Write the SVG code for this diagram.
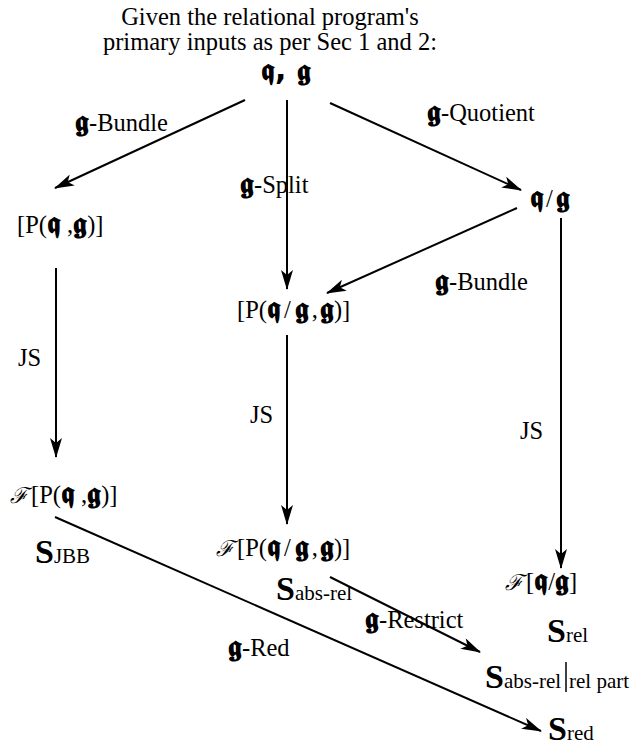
<svg xmlns="http://www.w3.org/2000/svg" width="632" height="746" viewBox="0 0 632 746">
<defs>
<marker id="ah" viewBox="0 0 20 12" refX="19" refY="6" markerWidth="20" markerHeight="12" markerUnits="userSpaceOnUse" orient="auto">
<path d="M0,0 L20,6 L0,12 L5,6 Z" fill="#000"/>
</marker>
<style>
text{font-family:"Liberation Serif","DejaVu Serif",serif;font-size:24.5px;fill:#000}
.fk{font-family:"DejaVu Sans","DejaVu Serif",serif;font-weight:bold;font-size:30px}
.sf{font-family:"DejaVu Serif",serif;font-style:italic;font-size:22px}
.big{font-size:34px;font-weight:bold}
.sub{font-size:21px}
line{stroke:#000;stroke-width:2}
.a{marker-end:url(#ah)}
</style>
</defs>
<rect width="632" height="746" fill="#fff"/>
<g id="title">
<text x="270" y="25" text-anchor="middle" font-size="26.5">Given the relational program's</text>
<text x="270" y="50" text-anchor="middle" font-size="26.5">primary inputs as per Sec 1 and 2:</text>
<text x="286" y="80" text-anchor="middle" class="fk">𝖖, 𝖌</text>
</g>
<g id="connectors">
<line class="a" x1="245" y1="100" x2="55" y2="188"/>
<line class="a" x1="287" y1="100" x2="287" y2="289"/>
<line class="a" x1="330" y1="103" x2="521" y2="190"/>
<line class="a" x1="517" y1="208" x2="327" y2="293"/>
<line class="a" x1="561" y1="218" x2="561" y2="568"/>
<line class="a" x1="56" y1="268" x2="56" y2="457"/>
<line class="a" x1="287" y1="335" x2="287" y2="524"/>
<line class="a" x1="55" y1="517" x2="541" y2="731"/>
<line class="a" x1="330" y1="577" x2="480" y2="652"/>
</g>
<g id="lbl-bundle1"><text x="75" y="131"><tspan class="fk">𝖌</tspan>-Bundle</text></g>
<g id="lbl-split"><text x="240" y="193"><tspan class="fk">𝖌</tspan>-Split</text></g>
<g id="lbl-quot"><text x="427" y="121"><tspan class="fk">𝖌</tspan>-Quotient</text></g>
<g id="n-qg"><text x="530" y="207"><tspan class="fk">𝖖</tspan><tspan dx="2">/</tspan><tspan class="fk" dx="3">𝖌</tspan></text></g>
<g id="n-pqg"><text x="17" y="233">[P(<tspan class="fk">𝖖</tspan> ,<tspan class="fk">𝖌</tspan>)]</text></g>
<g id="lbl-bundle2"><text x="435" y="290"><tspan class="fk">𝖌</tspan>-Bundle</text></g>
<g id="n-pqgg"><text x="237" y="318">[P(<tspan class="fk">𝖖</tspan><tspan dx="3">/</tspan><tspan class="fk" dx="4">𝖌</tspan><tspan dx="3">,</tspan><tspan class="fk" dx="2">𝖌</tspan>)]</text></g>
<g id="lbl-js1"><text x="18" y="366">JS</text></g>
<g id="lbl-js2"><text x="250" y="423">JS</text></g>
<g id="lbl-js3"><text x="520" y="439">JS</text></g>
<g id="n-fpqg"><text x="10" y="503"><tspan class="sf">ℱ</tspan><tspan dx="3">[P(</tspan><tspan class="fk">𝖖</tspan> ,<tspan class="fk">𝖌</tspan>)]</text></g>
<g id="n-sjbb"><text x="35" y="563"><tspan class="big">S</tspan><tspan class="sub">JBB</tspan></text></g>
<g id="n-fpqgg"><text x="216" y="556"><tspan class="sf">ℱ</tspan><tspan dx="3">[P(</tspan><tspan class="fk">𝖖</tspan><tspan dx="3">/</tspan><tspan class="fk" dx="4">𝖌</tspan><tspan dx="3">,</tspan><tspan class="fk" dx="2">𝖌</tspan>)]</text></g>
<g id="n-sabsrel"><text x="276" y="600"><tspan class="big">S</tspan><tspan class="sub">abs-rel</tspan></text></g>
<g id="n-fqg"><text x="505" y="590"><tspan class="sf">ℱ</tspan><tspan dx="3">[</tspan><tspan class="fk">𝖖</tspan>/<tspan class="fk">𝖌</tspan>]</text></g>
<g id="lbl-restrict"><text x="365" y="628"><tspan class="fk">𝖌</tspan>-Restrict</text></g>
<g id="n-srel"><text x="547" y="642"><tspan class="big">S</tspan><tspan class="sub">rel</tspan></text></g>
<g id="lbl-red"><text x="228" y="656"><tspan class="fk">𝖌</tspan>-Red</text></g>
<g id="n-srestr"><text x="485" y="688"><tspan class="big">S</tspan><tspan class="sub">abs-rel</tspan></text><line x1="566" y1="662" x2="566" y2="692" style="stroke-width:1.5"/><text x="569" y="688" class="sub">rel part</text></g>
<g id="n-sred"><text x="548" y="740"><tspan class="big">S</tspan><tspan class="sub">red</tspan></text></g>
</svg>
